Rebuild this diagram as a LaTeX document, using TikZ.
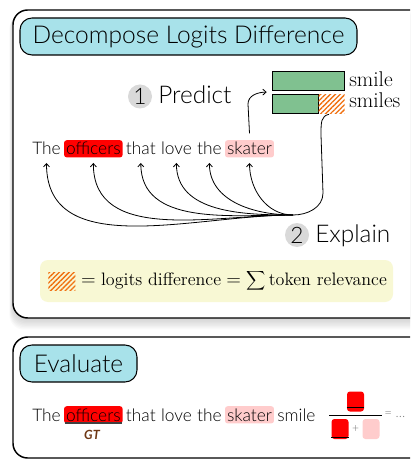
\documentclass[tikz,border=0pt]{standalone}
\usepackage{fontspec}
\newfontfamily\rob{Lato Light}
\newfontfamily\robb{Lato}
\usetikzlibrary{arrows.meta,patterns.meta}
\definecolor{titlecyan}{RGB}{168,226,234}
\definecolor{hired}{RGB}{255,0,0}
\definecolor{hipink}{RGB}{255,204,204}
\definecolor{bargreen}{RGB}{128,193,144}
\definecolor{hatchorange}{RGB}{240,112,16}
\definecolor{legendyellow}{RGB}{248,248,212}
\definecolor{circgray}{RGB}{217,217,217}
\definecolor{gtbrown}{RGB}{110,55,20}
\tikzset{
  panel/.style={draw=black, line width=1.1pt, fill=white, rounded corners=11pt},
  titlebox/.style={draw=black, line width=0.8pt, fill=titlecyan, rounded corners=9pt, inner sep=0pt, font=\rob\fontsize{18.4}{20}\selectfont},
  word/.style={font=\rob\fontsize{13}{14}\selectfont, inner xsep=1.5pt, inner ysep=0.8pt, text height=10.3pt, text depth=1pt, rounded corners=2pt, anchor=base west},
  numcirc/.style={circle, fill=circgray, inner sep=0pt, minimum size=18pt, font=\rob\fontsize{17}{18}\selectfont},
  bigword/.style={anchor=base west, inner sep=0pt, font=\rob\fontsize{18.3}{20}\selectfont},
  barbox/.style={draw=black, line width=0.6pt, fill=bargreen, inner sep=0pt, anchor=north west, minimum height=14.25pt},
  hatchbox/.style={pattern={Lines[angle=45,distance=2.6pt,line width=1pt]}, pattern color=hatchorange, inner sep=0pt, anchor=north west},
  barlabel/.style={anchor=base west, inner sep=0pt, font=\fontsize{16}{18}\selectfont},
  conn/.style={line width=0.6pt, -{Straight Barb[length=2.5pt,width=4.5pt]}},
  sq/.style={rounded corners=2.2pt, inner sep=0pt, minimum width=12.75pt, minimum height=15pt},
}
\begin{document}
\begin{tikzpicture}[x=0.75pt,y=-0.75pt]
\useasboundingbox (0,0) rectangle (410,459);
\clip (0,0) rectangle (410,459);
% shadows
\foreach \i in {1,...,9} {
  \fill[black, opacity=0.02, rounded corners=11pt] (13-\i*0.4, 10+\i*0.5) rectangle (432+\i*0.4, 318+\i*1.3);
}
% panels
\draw[panel] (13,10) rectangle (432,318);
\draw[panel] (13,337) rectangle (432,458);
% titles
\node[titlebox, minimum width=252.75pt, minimum height=27.75pt] (t1) at (188.5,36.5) {Decompose Logits Difference};
\node[titlebox, minimum width=87.75pt, minimum height=27.75pt] (t2) at (78.5,363.5) {Evaluate};
% predict / explain
\node[numcirc] (c1) at (140,96.5) {1};
\node[bigword] (pred) at (158,104) {Predict};
\node[numcirc] (c2) at (297,235) {2};
\node[bigword] (expl) at (315,243) {Explain};
% bars
\node[barbox, minimum width=54pt] (bar1) at (272,71) {};
\node[barbox, minimum width=34.5pt] (bar2) at (272,94) {};
\node[hatchbox, minimum width=19.5pt, minimum height=14.25pt] (hatch) at (318,94) {};
\node[barlabel] (lab1) at (349,87) {smile};
\node[barlabel] (lab2) at (349,108) {smiles};
% sentence 1
\node[word] (w1) at (30,155) {The};
\node[word, fill=hired] (w2) at ([xshift=0.6pt]w1.base east) {officers};
\node[word] (w3) at ([xshift=0.6pt]w2.base east) {that};
\node[word] (w4) at ([xshift=0.6pt]w3.base east) {love};
\node[word] (w5) at ([xshift=0.6pt]w4.base east) {the};
\node[word, fill=hipink] (w6) at ([xshift=0.6pt]w5.base east) {skater};
% connectors
\coordinate (conv) at (293,215);
\foreach \w in {w1,w2,w3,w4,w5,w6} {
  \draw[conn] (conv) to[out=180,in=-90] ([yshift=-4pt]\w.south);
}
\draw[line width=0.6pt] ([xshift=-2pt]hatch.south) .. controls (321,116) and (321,122) .. (321,135) -- (323,193) to[out=-90,in=0] (conv);
\draw[conn] ([yshift=5pt]w6.north) -- (248,104) to[out=90,in=180] ([xshift=-4pt,yshift=-1pt]bar1.south west);
% legend
\fill[legendyellow, rounded corners=6pt] (40,260) rectangle (393,302);
\node[hatchbox, anchor=west, minimum width=20.25pt, minimum height=13.5pt] (lhatch) at (48,281) {};
\node[anchor=west, inner sep=0pt, font=\fontsize{13.5}{15}\selectfont] (ltext) at ([xshift=4pt]lhatch.east) {$= \mbox{logits difference} = \displaystyle\sum \mbox{token relevance}$};
% sentence 2
\node[word] (v1) at (30,421) {The};
\node[word, fill=hired] (v2) at ([xshift=0.6pt]v1.base east) {officers};
\node[word] (v3) at ([xshift=0.6pt]v2.base east) {that};
\node[word] (v4) at ([xshift=0.6pt]v3.base east) {love};
\node[word] (v5) at ([xshift=0.6pt]v4.base east) {the};
\node[word, fill=hipink] (v6) at ([xshift=0.6pt]v5.base east) {skater};
\node[word] (v7) at ([xshift=0.6pt]v6.base east) {smile};
\draw[line width=0.8pt, black!75] ([xshift=1pt,yshift=0.5pt]v2.south west) -- ([xshift=-1pt,yshift=0.5pt]v2.south east);
\node[inner sep=0pt, text=gtbrown, font=\robb\bfseries\itshape\fontsize{9.5}{10}\selectfont] (gt) at (92,435) {GT};
% fraction
\node[sq, fill=hired] (f1) at (355.5,401.5) {};
\draw[line width=0.7pt] ([yshift=3pt]f1.south west) -- ([yshift=3pt]f1.south east);
\draw[line width=0.7pt] (329,415) -- (382,415);
\node[sq, fill=hired] (f2) at (340,429) {};
\draw[line width=0.7pt] ([yshift=1.5pt]f2.south west) -- ([yshift=1.5pt]f2.south east);
\node[inner sep=0pt, text=black!55, font=\rob\fontsize{9}{10}\selectfont] (plus) at (355.5,429) {+};
\node[sq, fill=hipink] (f3) at (371,429) {};
\node[anchor=west, inner sep=0pt, text=black!50, font=\rob\fontsize{10}{10}\selectfont] (eqd) at (384,415) {= \dots};
\end{tikzpicture}
\end{document}
